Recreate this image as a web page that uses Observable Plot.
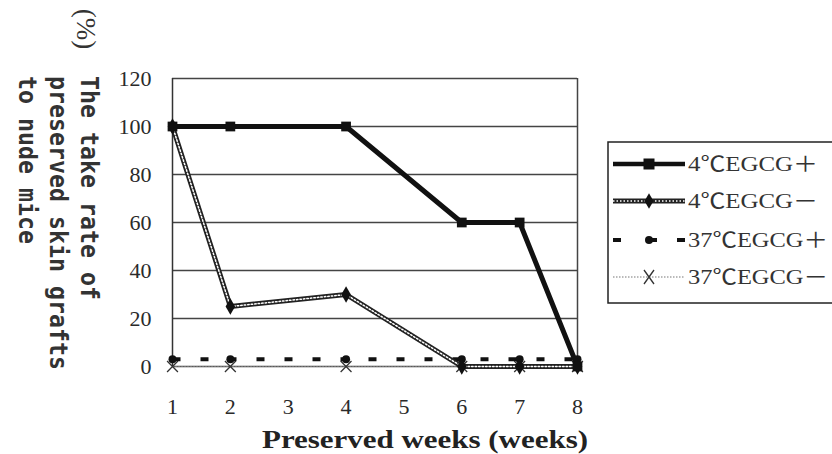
<!DOCTYPE html>
<html>
<head>
<meta charset="utf-8">
<script src="https://cdn.jsdelivr.net/npm/d3@7"></script>
<script src="https://cdn.jsdelivr.net/npm/@observablehq/plot@0.6"></script>
<style>
  html, body { margin: 0; padding: 0; background: #fff; }
  #chart { width: 832px; height: 454px; overflow: hidden; }
</style>
</head>
<body>
<div id="chart"></div>
<script>
const weeks = [1, 2, 4, 6, 7, 8];
const egcgPlus4 = [100, 100, 100, 60, 60, 0];
const egcgMinus4 = [100, 25, 30, 0, 0, 0];
const egcgPlus37 = [3, 3, 3, 3, 3, 3];
const egcgMinus37 = [0, 0, 0, 0, 0, 0];
const seriesNames = ["4℃EGCG＋", "4℃EGCG－", "37℃EGCG＋", "37℃EGCG－"];
const xTicks = [1, 2, 3, 4, 5, 6, 7, 8];
const yTicks = [0, 20, 40, 60, 80, 100, 120];
const yTitleLines = ["The take rate of", "preserved skin grafts", "to nude mice"];
const yUnit = "(%)";
const xTitle = "Preserved weeks (weeks)";

const toRows = vals => weeks.map((w, i) => ({week: w, value: vals[i]}));
const s1 = toRows(egcgPlus4), s2 = toRows(egcgMinus4), s3 = toRows(egcgPlus37), s4 = toRows(egcgMinus37);

const plot = Plot.plot({
  width: 832,
  height: 454,
  marginLeft: 172,
  marginRight: 255,
  marginTop: 78,
  marginBottom: 88,
  style: {fontFamily: "'Liberation Serif', serif", fontSize: "22px", color: "#2a2a2a", background: "#fff"},
  x: {domain: [1, 8], type: "linear"},
  y: {domain: [0, 120]},
  marks: [
    Plot.ruleY(yTicks, {stroke: "#444", strokeWidth: 1.5}),
    Plot.ruleX([1], {stroke: "#333", strokeWidth: 1.5}),
    Plot.ruleX([8], {stroke: "#444", strokeWidth: 1.5}),
    Plot.axisX({ticks: xTicks, tickSize: 0, tickPadding: 32, tickFormat: d => String(d), label: null, fontSize: 22}),
    Plot.axisY({ticks: yTicks, tickSize: 0, tickPadding: 21, label: null, fontSize: 22}),
    // 37C EGCG- : thin dotted
    Plot.line(s4, {x: "week", y: "value", stroke: "#777", strokeWidth: 1.2, strokeDasharray: "1.5,1.5"}),
    Plot.dot(s4, {x: "week", y: "value", symbol: "times", r: 5, stroke: "#333", strokeWidth: 1.3}),
    // 37C EGCG+ : dashed thick
    Plot.line(s3, {x: "week", y: "value", stroke: "#111", strokeWidth: 4, strokeDasharray: "8,20", strokeLinecap: "butt"}),
    Plot.dot(s3, {x: "week", y: "value", symbol: "circle", r: 4, fill: "#111"}),
    // 4C EGCG- : chain line
    Plot.line(s2, {x: "week", y: "value", stroke: "#222", strokeWidth: 5}),
    Plot.line(s2, {x: "week", y: "value", stroke: "#fff", strokeWidth: 1.5, strokeDasharray: "1.5,2"}),
    Plot.dot(s2, {x: "week", y: "value", symbol: "diamond", r: 5, fill: "#111"}),
    // 4C EGCG+ : thick solid
    Plot.line(s1, {x: "week", y: "value", stroke: "#111", strokeWidth: 5}),
    Plot.dot(s1, {x: "week", y: "value", symbol: "square", r: 5.5, fill: "#111"})
  ]
});

document.getElementById("chart").appendChild(plot);
const svg = d3.select(plot);
svg.selectAll('g[aria-label$="tick label"]').style("font-size", "22px").attr("fill", "#2a2a2a");
svg.selectAll('g[aria-label$="tick label"] text').style("font-size", "22px");

// Y axis title (rotated)
const yTitleX = [89, 58, 27];
yTitleLines.forEach((t, i) => {
  svg.append("text")
    .attr("transform", `translate(${yTitleX[i]},76) rotate(90)`)
    .attr("dominant-baseline", "central")
    .attr("text-anchor", "start")
    .style("font-family", "'DejaVu Sans Mono', monospace")
    .style("font-weight", "bold")
    .style("font-size", "25px")
    .attr("fill", "#333")
    .attr("textLength", t.length * 14)
    .attr("lengthAdjust", "spacingAndGlyphs")
    .text(t);
});
svg.append("text")
  .attr("transform", "translate(86,29) rotate(90)")
  .attr("dominant-baseline", "central")
  .attr("text-anchor", "middle")
  .style("font-family", "'Liberation Serif', serif")
  .style("font-size", "27px")
  .attr("fill", "#333")
  .text(yUnit);

// X axis title
svg.append("text")
  .attr("x", 262).attr("y", 448)
  .attr("text-anchor", "start")
  .style("font-family", "'Liberation Serif', serif")
  .style("font-weight", "bold")
  .style("font-size", "25px")
  .attr("fill", "#222")
  .attr("textLength", 326)
  .attr("lengthAdjust", "spacingAndGlyphs")
  .text(xTitle);

// Legend
const lg = svg.append("g");
lg.append("rect").attr("x", 608).attr("y", 142).attr("width", 260).attr("height", 161)
  .attr("fill", "#fff").attr("stroke", "#222").attr("stroke-width", 1.5);
const rowsY = [164, 201, 240, 277];
const x0 = 613, x1 = 685, xm = 649;
// row 1
lg.append("line").attr("x1", x0).attr("x2", x1).attr("y1", rowsY[0]).attr("y2", rowsY[0]).attr("stroke", "#111").attr("stroke-width", 4.5);
lg.append("rect").attr("x", xm - 5.5).attr("y", rowsY[0] - 5.5).attr("width", 11).attr("height", 11).attr("fill", "#111");
// row 2
lg.append("line").attr("x1", x0).attr("x2", x1).attr("y1", rowsY[1]).attr("y2", rowsY[1]).attr("stroke", "#222").attr("stroke-width", 5);
lg.append("line").attr("x1", x0).attr("x2", x1).attr("y1", rowsY[1]).attr("y2", rowsY[1]).attr("stroke", "#fff").attr("stroke-width", 1.5).attr("stroke-dasharray", "1.5,2");
lg.append("path").attr("d", d3.symbol(d3.symbolDiamond, 70)()).attr("transform", `translate(${xm},${rowsY[1]})`).attr("fill", "#111");
// row 3
lg.append("line").attr("x1", x0).attr("x2", x1).attr("y1", rowsY[2]).attr("y2", rowsY[2]).attr("stroke", "#111").attr("stroke-width", 4).attr("stroke-dasharray", "8,28");
lg.append("line").attr("x1", x1 - 8).attr("x2", x1).attr("y1", rowsY[2]).attr("y2", rowsY[2]).attr("stroke", "#111").attr("stroke-width", 4);
lg.append("circle").attr("cx", xm).attr("cy", rowsY[2]).attr("r", 4).attr("fill", "#111");
// row 4
lg.append("line").attr("x1", x0).attr("x2", x1).attr("y1", rowsY[3]).attr("y2", rowsY[3]).attr("stroke", "#777").attr("stroke-width", 1.2).attr("stroke-dasharray", "1.5,1.5");
lg.append("path").attr("d", "M-5,-7L5,7M-5,7L5,-7").attr("transform", `translate(${xm},${rowsY[3]})`).attr("stroke", "#333").attr("stroke-width", 1.3).attr("fill", "none");
const textLens = [130, 130, 140, 140];
seriesNames.forEach((n, i) => {
  lg.append("text").attr("x", 688).attr("y", rowsY[i])
    .attr("text-anchor", "start")
    .attr("dominant-baseline", "central")
    .style("font-family", "'Liberation Serif', 'Noto Sans CJK JP', serif")
    .style("font-size", "21px")
    .attr("fill", "#333")
    .attr("textLength", textLens[i])
    .attr("lengthAdjust", "spacingAndGlyphs")
    .text(n);
});
</script>
</body>
</html>
